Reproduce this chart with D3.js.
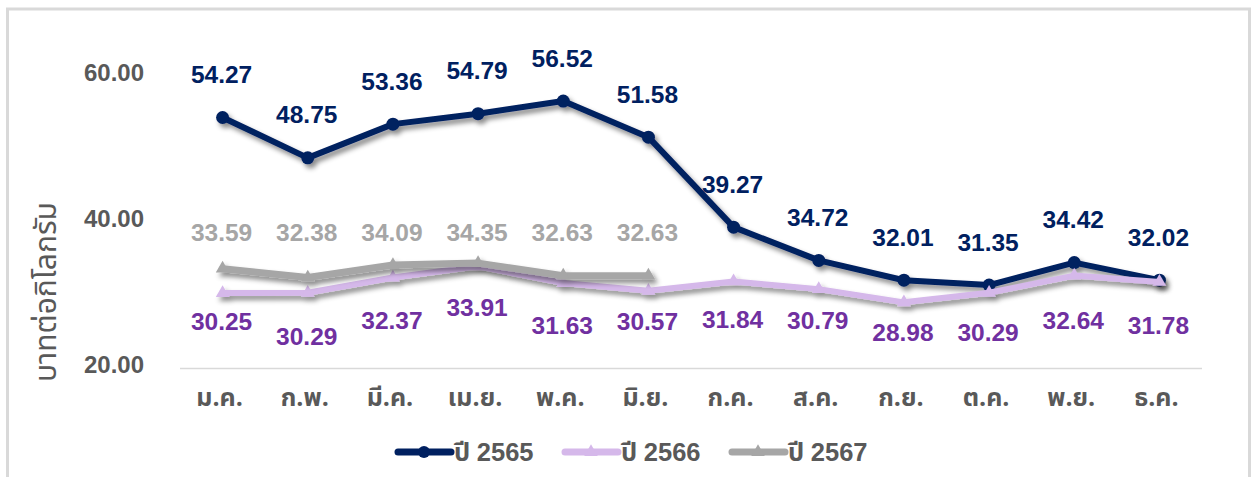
<!DOCTYPE html>
<html><head><meta charset="utf-8">
<script src="https://cdn.jsdelivr.net/npm/d3@7"></script>
<style>
html,body{margin:0;padding:0;background:#fff;}
svg{display:block;font-family:"Liberation Sans",Arial,"Noto Sans Thai","Noto Sans",sans-serif;}
</style></head>
<body>
<svg id="chart" width="1252" height="477"></svg>
<script>
const months = ["ม.ค.","ก.พ.","มี.ค.","เม.ย.","พ.ค.","มิ.ย.","ก.ค.","ส.ค.","ก.ย.","ต.ค.","พ.ย.","ธ.ค."];
const y2565 = [54.27,48.75,53.36,54.79,56.52,51.58,39.27,34.72,32.01,31.35,34.42,32.02];
const y2566 = [30.25,30.29,32.37,33.91,31.63,30.57,31.84,30.79,28.98,30.29,32.64,31.78];
const y2567 = [33.59,32.38,34.09,34.35,32.63,32.63];
const yTicks = [20,40,60];
const seriesNames = ["ปี 2565","ปี 2566","ปี 2567"];
const axisTitle = "บาทต่อกิโลกรัม";
// layout only: label offsets for 2566 (below points)
const dy2566 = [28,44,43,41,42,31,38,31,30,40,45,44];

const svg = d3.select("#chart");
const defs = svg.append("defs");
const f = defs.append("filter").attr("id","sh").attr("x","-20%").attr("y","-50%").attr("width","140%").attr("height","200%");
f.append("feDropShadow").attr("dx",3).attr("dy",4).attr("stdDeviation",2.5).attr("flood-color","#000").attr("flood-opacity",0.45);

// frame
svg.append("rect").attr("x",7.5).attr("y",9).attr("width",1242).attr("height",520)
  .attr("fill","none").attr("stroke","#d9d9d9").attr("stroke-width",3);

const x = d3.scaleBand().domain(months).range([180,1202]);
const y = d3.scaleLinear().domain([20,60]).range([368,75.6]);
const cx = m => x(m) + x.bandwidth()/2;
const thaiFont = "'Noto Sans Thai','Tahoma','Noto Sans','DejaVu Sans',sans-serif";

// baseline
svg.append("line").attr("x1",180).attr("x2",1202).attr("y1",368.5).attr("y2",368.5)
  .attr("stroke","#d9d9d9").attr("stroke-width",1.5);

// y tick labels
const yAxis = d3.axisLeft(y).tickValues(yTicks).tickFormat(d3.format(".2f")).tickSize(0).tickPadding(0);
const ga = svg.append("g").attr("transform","translate(144,0)").call(yAxis);
ga.select(".domain").remove();
ga.selectAll("text").attr("font-size",24).attr("font-weight","bold").attr("fill","#595959")
  .attr("font-family","'Liberation Sans',Arial,sans-serif").attr("dy","0.2em");

// x labels
const xAxis = d3.axisBottom(x).tickSize(0).tickPadding(0);
const gx = svg.append("g").attr("transform","translate(0,397)").call(xAxis);
gx.select(".domain").remove();
gx.selectAll("text").attr("font-size",25).attr("font-weight","bold").attr("fill","#595959")
  .attr("font-family",thaiFont).attr("dx","-3").attr("dy","0.35em");

// y title
svg.append("text").attr("transform","translate(56,292) rotate(-90)")
  .attr("text-anchor","middle").attr("font-size",30).attr("fill","#595959")
  .attr("font-family",thaiFont).text(axisTitle);

const line = d3.line().x((d,i)=>cx(months[i])).y(d=>y(d));
const tri = d3.symbol().type(d3.symbolTriangle).size(80);

const series = [
  {vals:y2565, color:"#002060", width:6, marker:"circle"},
  {vals:y2566, color:"#d5b8ea", width:6, marker:"tri"},
  {vals:y2567, color:"#a6a6a6", width:7, marker:"tri"}
];
series.forEach(s=>{
  const g = svg.append("g").attr("filter","url(#sh)");
  g.append("path").attr("d",line(s.vals)).attr("fill","none").attr("stroke",s.color)
    .attr("stroke-width",s.width).attr("stroke-linejoin","round").attr("stroke-linecap","round");
  if(s.marker==="circle"){
    g.selectAll("circle").data(s.vals).join("circle")
      .attr("cx",(d,i)=>cx(months[i])).attr("cy",d=>y(d)).attr("r",6.5).attr("fill",s.color);
  } else {
    g.selectAll("path.m").data(s.vals).join("path").attr("class","m")
      .attr("d",tri).attr("transform",(d,i)=>`translate(${cx(months[i])},${y(d)})`).attr("fill",s.color);
  }
});

const lblFont = "'Liberation Sans',Arial,sans-serif";
function labels(vals,color,posFn){
  svg.append("g").selectAll("text").data(vals).join("text")
    .attr("x",(d,i)=>cx(months[i])-1).attr("y",(d,i)=>posFn(d,i))
    .attr("text-anchor","middle").attr("dy","0.35em")
    .attr("font-family",lblFont).attr("font-size",24.5).attr("font-weight","bold")
    .attr("fill",color).text(d=>d3.format(".2f")(d));
}
labels(y2565,"#002060",(d)=>y(d)-43);
labels(y2566,"#7030a0",(d,i)=>y(d)+dy2566[i]);
labels(y2567,"#a6a6a6",()=>y(d3.max(y2567))-31);

// legend
const leg = [
  {name:seriesNames[0],color:"#002060",marker:"circle",x0:395},
  {name:seriesNames[1],color:"#d5b8ea",marker:"tri",x0:562},
  {name:seriesNames[2],color:"#a6a6a6",marker:"tri",x0:729}
];
const ly = 452;
leg.forEach(l=>{
  const g = svg.append("g");
  g.append("line").attr("x1",l.x0+3).attr("x2",l.x0+56).attr("y1",ly).attr("y2",ly)
    .attr("stroke",l.color).attr("stroke-width",7).attr("stroke-linecap","round");
  if(l.marker==="circle") g.append("circle").attr("cx",l.x0+29).attr("cy",ly).attr("r",6).attr("fill",l.color);
  else g.append("path").attr("d",tri).attr("transform",`translate(${l.x0+29},${ly})`).attr("fill",l.color);
  const t = g.append("text").attr("x",l.x0+59).attr("y",ly).attr("dy","0.35em")
    .attr("font-size",25.5).attr("font-weight","bold").attr("fill","#595959");
  const parts = l.name.split(" ");
  t.append("tspan").attr("font-family",thaiFont).text(parts[0]+" ");
  t.append("tspan").attr("font-family",lblFont).text(parts[1]);
});
</script>
</body></html>
